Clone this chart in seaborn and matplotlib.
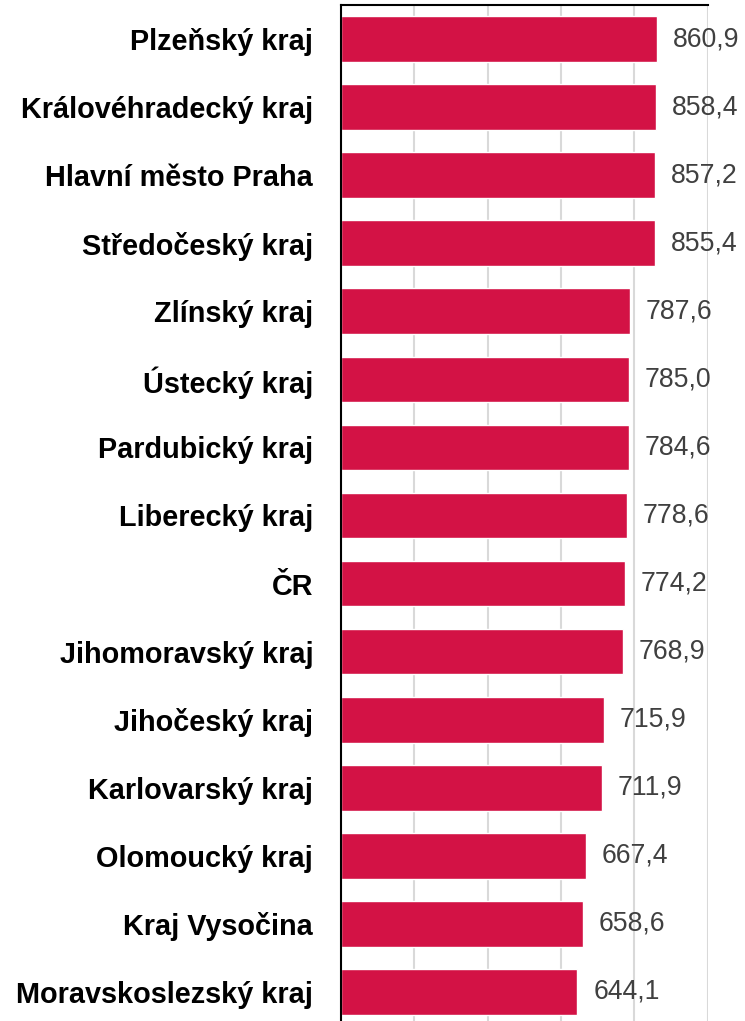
import matplotlib
matplotlib.use("Agg")
import pandas as pd
import seaborn as sns
import matplotlib.pyplot as plt

kraje = [
    "Plzeňský kraj", "Královéhradecký kraj", "Hlavní město Praha", "Středočeský kraj",
    "Zlínský kraj", "Ústecký kraj", "Pardubický kraj", "Liberecký kraj", "ČR",
    "Jihomoravský kraj", "Jihočeský kraj", "Karlovarský kraj", "Olomoucký kraj",
    "Kraj Vysočina", "Moravskoslezský kraj",
]
hodnoty = [860.9, 858.4, 857.2, 855.4, 787.6, 785.0, 784.6, 778.6, 774.2,
           768.9, 715.9, 711.9, 667.4, 658.6, 644.1]

df = pd.DataFrame({"kraj": kraje, "hodnota": hodnoty})

sns.set_style("white")
plt.rcParams["font.family"] = ["Liberation Sans", "DejaVu Sans"]

W, H = 745, 1021
fig = plt.figure(figsize=(W / 100, H / 100), dpi=100)
# osa presahuje spodni okraj obrazku (posledni radek je oriznuty)
ax = fig.add_axes([341 / W, -5 / H, (707.7 - 341) / W, (1016 + 5) / H])

sns.barplot(data=df, x="hodnota", y="kraj", orient="h", color="#D31245",
            width=0.67, saturation=1, ax=ax, zorder=3)

ax.set_xlim(0, 1000)
ax.set_xticks([200, 400, 600, 800, 1000])
ax.set_xticklabels([])
ax.tick_params(axis="x", length=0)
ax.grid(axis="x", color="#D9D9D9", linewidth=1.5, zorder=0)
ax.set_xlabel("")
ax.set_ylabel("")

for s in ["right", "bottom"]:
    ax.spines[s].set_visible(False)
for s in ["left", "top"]:
    ax.spines[s].set_color("black")
    ax.spines[s].set_linewidth(1.5)
    ax.spines[s].set_zorder(4)

ax.tick_params(axis="y", length=0, pad=20)
for lab in ax.get_yticklabels():
    lab.set_fontweight("bold")
    lab.set_fontsize(20.8)
    lab.set_color("black")

for i, v in enumerate(hodnoty):
    ax.annotate(f"{v:.1f}".replace(".", ","), xy=(v, i), xytext=(11.5, 0),
                textcoords="offset points", va="center", ha="left",
                fontsize=19.2, color="#404040", annotation_clip=False)

fig.savefig("out.png", dpi=100)
